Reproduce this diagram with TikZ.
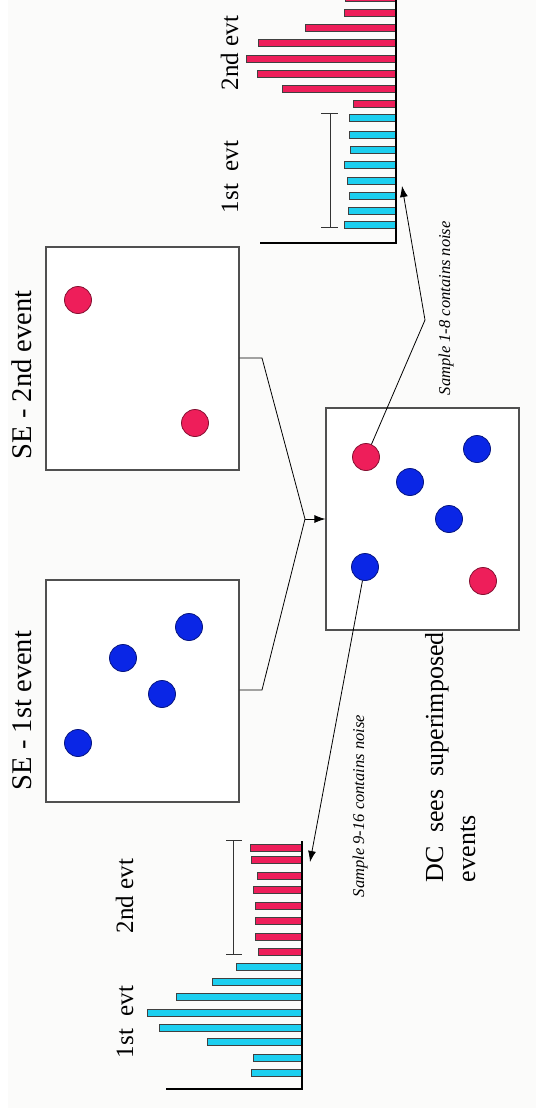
\documentclass[tikz,border=0pt]{standalone}
\usepackage{fontspec}
\setmainfont{Liberation Serif}
\usetikzlibrary{arrows.meta}

\definecolor{evred}{HTML}{EE1E5A}
\definecolor{evcyan}{HTML}{1CCFF0}
\definecolor{evblue}{HTML}{0A26E6}
\definecolor{paper}{HTML}{FBFBFA}
\definecolor{framegray}{HTML}{505050}

\begin{document}
\begin{tikzpicture}[x=1pt,y=-1pt,
  panel/.style={draw=framegray, line width=1.2pt, fill=white,
    minimum width=193pt, minimum height=222pt, inner sep=0pt},
  reddot/.style={circle, draw=evred!55!black, line width=0.8pt, fill=evred,
    minimum size=27pt, inner sep=0pt},
  bluedot/.style={circle, draw=evblue!55!black, line width=0.8pt, fill=evblue,
    minimum size=27pt, inner sep=0pt},
  lbl/.style={rotate=90, anchor=base west, inner sep=0pt, outer sep=0pt},
  bigtxt/.style={font=\fontsize{28.5}{34}\selectfont},
  dctxt/.style={font=\fontsize{26}{31}\selectfont},
  histtxt/.style={font=\fontsize{25}{30}\selectfont},
  smalltxt/.style={font=\fontsize{16.5}{20}\selectfont\itshape},
  redbar/.style={fill=evred, draw=black!75, line width=0.7pt},
  cyanbar/.style={fill=evcyan, draw=black!75, line width=0.7pt},
  axisline/.style={draw=black, line width=1.6pt},
  conn/.style={draw=black, line width=0.8pt},
  tipped/.style={-{Latex[length=11pt,width=8pt]}},
  bracket/.style={draw=black!80, line width=0.8pt}
]
\useasboundingbox (0,0) rectangle (536,1112);
\clip (0,0) rectangle (536,1112);
\fill[paper] (8,0) rectangle (536,1108);

% ---------- upper histogram (DC signal with noise in samples 1-8) ----------
\foreach \yc/\xl in {-2/345, 13/344, 28/305, 43/258, 59/246, 74/257, 89/282, 104/353}
  \draw[redbar] (\xl,\yc-3.8) rectangle (396,\yc+3.8);
\foreach \yc/\xl in {118/349, 135/349, 150/350, 165/344, 181/347, 196/349, 211/348, 225/344}
  \draw[cyanbar] (\xl,\yc-3.8) rectangle (396,\yc+3.8);
\draw[axisline] (396,-5) -- (396,243) -- (260,243);
\draw[bracket] (330,113) -- (330,227);
\draw[bracket] (321,113) -- (338,113);
\draw[bracket] (321,227) -- (338,227);
\node[lbl, histtxt] (tA1) at (238,213) {1st\ \ evt};
\node[lbl, histtxt] (tA2) at (238,90) {2nd evt};

% ---------- lower histogram (DC signal with noise in samples 9-16) ----------
\foreach \yc/\xl in {848/250, 860/251, 876/257, 890/253, 906/255, 921/255, 937/255, 952/258}
  \draw[redbar] (\xl,\yc-3.8) rectangle (302,\yc+3.8);
\foreach \yc/\xl in {967/236, 982/212, 997/176, 1013/147, 1028/159, 1042/207, 1058/253, 1073/251}
  \draw[cyanbar] (\xl,\yc-3.8) rectangle (302,\yc+3.8);
\draw[axisline] (302,841) -- (302,1089) -- (166,1089);
\draw[bracket] (233,840) -- (233,954);
\draw[bracket] (226,840) -- (242,840);
\draw[bracket] (226,954) -- (242,954);
\node[lbl, histtxt] (tB1) at (133,1058) {1st\ \ evt};
\node[lbl, histtxt] (tB2) at (133,933) {2nd evt};

% ---------- single-event panels ----------
\node[panel, minimum height=223pt] (se2) at (142.5,358.5) {};
\node[reddot] (s2a) at (78,300) {};
\node[reddot] (s2b) at (195,423) {};
\node[lbl, bigtxt] (se2t) at (31,459) {SE - 2nd event};

\node[panel] (se1) at (142.5,691) {};
\node[bluedot] (s1a) at (189,627) {};
\node[bluedot] (s1b) at (123,658) {};
\node[bluedot] (s1c) at (162,694) {};
\node[bluedot] (s1d) at (78,743) {};
\node[lbl, bigtxt] (se1t) at (31,790) {SE - 1st event};

% ---------- superimposed panel ----------
\node[panel] (dc) at (422.5,519) {};
\node[reddot] (d1) at (366,457) {};
\node[bluedot] (d2) at (477,449) {};
\node[bluedot] (d3) at (410,482) {};
\node[bluedot] (d4) at (449,519) {};
\node[bluedot] (d5) at (365,567) {};
\node[reddot] (d6) at (483,581) {};
\node[lbl, dctxt] (dct1) at (443,882) {DC\ \ sees\ \ superimposed};
\node[lbl, dctxt] (dct2) at (475,882) {events};

% ---------- merging connectors ----------
\coordinate (merge) at (305,519);
\coordinate (bend2) at (262,358);
\coordinate (bend1) at (262,690);
\draw[conn] (se2.east |- bend2) -- (bend2) -- (merge);
\draw[conn] (se1.east |- bend1) -- (bend1) -- (merge);
\draw[conn, tipped] (merge) -- (dc.west);

% ---------- noise pointers ----------
\coordinate (kinkA) at (425,320);
\coordinate (endA) at (402,186);
\coordinate (endB) at (310,862);
\draw[conn, tipped] (d1) -- (kinkA) -- (endA);
\draw[conn, tipped] (d5) -- (endB);
\node[lbl, smalltxt] (nA) at (450,395) {Sample 1-8 contains noise};
\node[lbl, smalltxt] (nB) at (364,897) {Sample 9-16 contains noise};
\end{tikzpicture}
\end{document}
